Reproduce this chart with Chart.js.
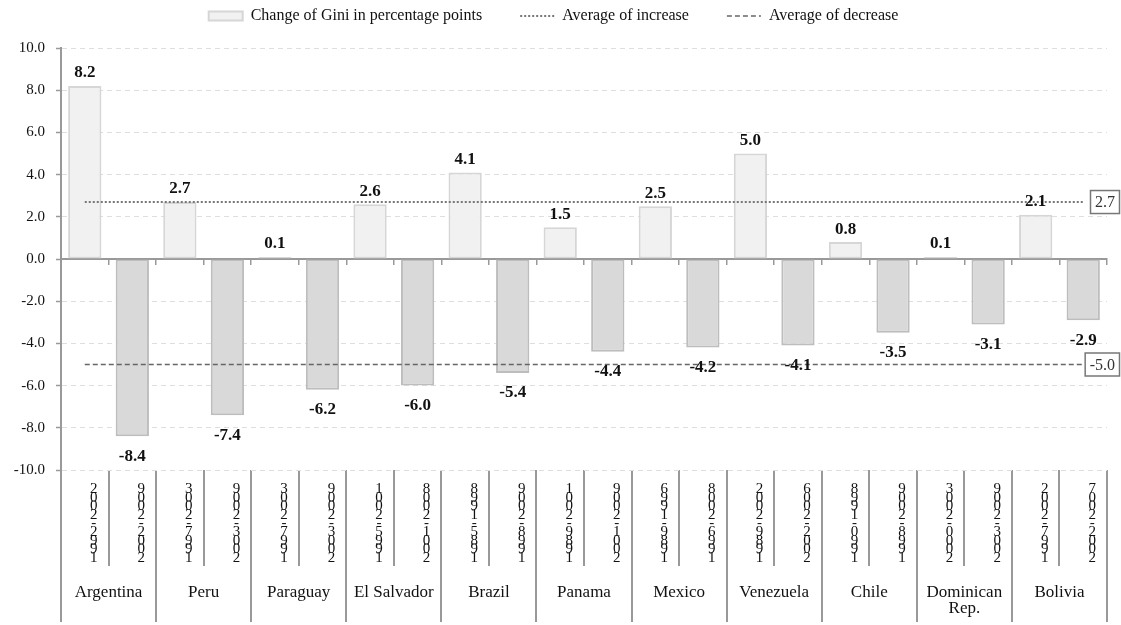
<!DOCTYPE html>
<html>
<head>
<meta charset="utf-8">
<script src="https://cdn.jsdelivr.net/npm/chart.js@4.4.1/dist/chart.umd.min.js"></script>
<style>
  html, body { margin: 0; padding: 0; background: #fff; }
  #wrap { width: 1121px; height: 625px; position: relative; }
</style>
</head>
<body>
<div id="wrap"><canvas id="giniChart"></canvas></div>
<script>
const countries = ['Argentina', 'Peru', 'Paraguay', 'El Salvador', 'Brazil', 'Panama',
    'Mexico', 'Venezuela', 'Chile', ['Dominican', 'Rep.'], 'Bolivia'];
const periods = ['1992-2002', '2002-2009', '1997-2003', '2003-2009', '1997-2003', '2003-2009',
    '1995-2001', '2001-2008', '1985-1998', '1998-2009', '1989-2001', '2001-2009',
    '1989-1996', '1996-2008', '1989-2002', '2002-2006', '1990-1998', '1998-2009',
    '2000-2003', '2003-2009', '1997-2002', '2002-2007'];
const giniChange = [8.2, -8.4, 2.7, -7.4, 0.1, -6.2, 2.6, -6.0, 4.1, -5.4, 1.5, -4.4,
    2.5, -4.2, 5.0, -4.1, 0.8, -3.5, 0.1, -3.1, 2.1, -2.9];
const avgIncrease = 2.7;
const avgDecrease = -5.0;

const serif = '"Liberation Serif", "Times New Roman", serif';
Chart.defaults.font.family = serif;
Chart.defaults.color = '#111';

// bold values at the bar ends + boxed averages at the right edge
const valueLabels = {
    id: 'valueLabels',
    beforeInit(chart) {
        // a bit of extra room under the legend
        const fit = chart.legend.fit;
        chart.legend.fit = function() {
            fit.call(this);
            this.height += 14;
        };
    },
    afterDatasetsDraw(chart) {
        const ctx = chart.ctx;
        const meta = chart.getDatasetMeta(0);
        ctx.save();
        ctx.font = 'bold 17px ' + serif;
        ctx.fillStyle = '#111';
        ctx.textAlign = 'center';
        ctx.textBaseline = 'middle';
        meta.data.forEach((bar, i) => {
            const v = giniChange[i];
            ctx.fillText(v.toFixed(1), bar.x, v >= 0 ? bar.y - 13 : bar.y + 20);
        });

        ctx.font = '16px ' + serif;
        ctx.textAlign = 'left';
        [avgIncrease, avgDecrease].forEach(v => {
            const y = chart.scales.y.getPixelForValue(v);
            const txt = v.toFixed(1);
            const w = ctx.measureText(txt).width + 9;
            const h = 23;
            const x = chart.width - 1.5 - w;
            ctx.fillStyle = '#fff';
            ctx.fillRect(x, y - h / 2, w, h);
            ctx.strokeStyle = '#777';
            ctx.lineWidth = 1.5;
            ctx.strokeRect(x, y - h / 2, w, h);
            ctx.fillStyle = '#333';
            ctx.fillText(txt, x + 4.5, y + 1);
        });
        ctx.restore();
    }
};

const ctx = document.getElementById('giniChart').getContext('2d');
new Chart(ctx, {
    type: 'bar',
    data: {
        labels: periods,
        datasets: [{
            label: 'Change of Gini in percentage points',
            data: giniChange,
            backgroundColor: giniChange.map(v => v >= 0 ? '#f1f1f1' : '#d9d9d9'),
            borderColor: giniChange.map(v => v >= 0 ? '#d6d6d6' : '#bdbdbd'),
            borderWidth: 2,
            borderSkipped: false,
            categoryPercentage: 1,
            barPercentage: 0.7,
            order: 2
        }, {
            type: 'line',
            label: 'Average of increase',
            data: [{ x: periods[0], y: avgIncrease }, { x: periods[periods.length - 1], y: avgIncrease }],
            borderColor: '#777',
            borderWidth: 2,
            borderDash: [2, 2],
            pointRadius: 0,
            order: 1
        }, {
            type: 'line',
            label: 'Average of decrease',
            data: [{ x: periods[0], y: avgDecrease }, { x: periods[periods.length - 1], y: avgDecrease }],
            borderColor: '#666',
            borderWidth: 1.5,
            borderDash: [5, 3],
            pointRadius: 0,
            order: 1
        }]
    },
    options: {
        responsive: true,
        maintainAspectRatio: false,
        animation: false,
        layout: { padding: { top: -30, right: 14, bottom: 3, left: 0 } },
        plugins: {
            tooltip: { enabled: false },
            legend: {
                position: 'top',
                labels: {
                    usePointStyle: true,
                    pointStyleWidth: 34,
                    boxHeight: 9,
                    padding: 38,
                    font: { size: 16 },
                    color: '#111',
                    sort: (a, b) => a.datasetIndex - b.datasetIndex,
                    generateLabels(chart) {
                        const items = Chart.defaults.plugins.legend.labels.generateLabels(chart);
                        items.forEach(item => {
                            const ds = chart.data.datasets[item.datasetIndex];
                            if (ds.type === 'line') {
                                item.pointStyle = 'line';
                                item.lineDash = ds.borderDash;
                                item.strokeStyle = ds.borderColor;
                                item.lineWidth = ds.borderWidth;
                            } else {
                                item.pointStyle = 'rect';
                                item.fillStyle = '#f1f1f1';
                                item.strokeStyle = '#d6d6d6';
                                item.lineWidth = 2;
                            }
                        });
                        return items;
                    }
                }
            }
        },
        scales: {
            x: {
                type: 'category',
                weight: 0,
                offset: true,
                grid: { offset: true, drawOnChartArea: false, tickLength: 96, color: '#999', lineWidth: 2 },
                border: { display: false },
                ticks: {
                    autoSkip: false,
                    maxRotation: 0,
                    minRotation: 0,
                    padding: -81,
                    labelOffset: 9,
                    font: { size: 15, lineHeight: 0.57 },
                    color: '#111',
                    callback(value) {
                        return this.getLabelForValue(value).split('').reverse();
                    }
                },
                afterFit(scale) { scale.height = 96; }
            },
            x2: {
                type: 'category',
                axis: 'x',
                labels: countries,
                position: 'bottom',
                weight: 1,
                offset: true,
                grid: { offset: true, drawOnChartArea: false, tickLength: 56, color: '#999', lineWidth: 2 },
                border: { display: false },
                ticks: {
                    autoSkip: false,
                    maxRotation: 0,
                    minRotation: 0,
                    padding: -38,
                    font: { size: 17, lineHeight: 0.95 },
                    color: '#111'
                },
                afterFit(scale) { scale.height = 56; }
            },
            xz: {
                type: 'category',
                axis: 'x',
                labels: periods,
                position: { y: 0 },
                offset: true,
                grid: { offset: true, drawOnChartArea: false, tickLength: 5, color: '#999', lineWidth: 1.5 },
                border: { color: '#999', width: 2 },
                ticks: { display: false }
            },
            y: {
                min: -10,
                max: 10,
                grid: { color: '#dedede', lineWidth: 1, tickColor: '#999', tickWidth: 1.5, tickLength: 5 },
                border: { color: '#999', width: 2, dash: [5, 4] },
                ticks: {
                    stepSize: 2,
                    padding: 11,
                    font: { size: 15 },
                    color: '#111',
                    callback: v => v.toFixed(1)
                },
                afterFit(scale) { scale.width = 61; }
            }
        }
    },
    plugins: [valueLabels]
});
</script>
</body>
</html>
